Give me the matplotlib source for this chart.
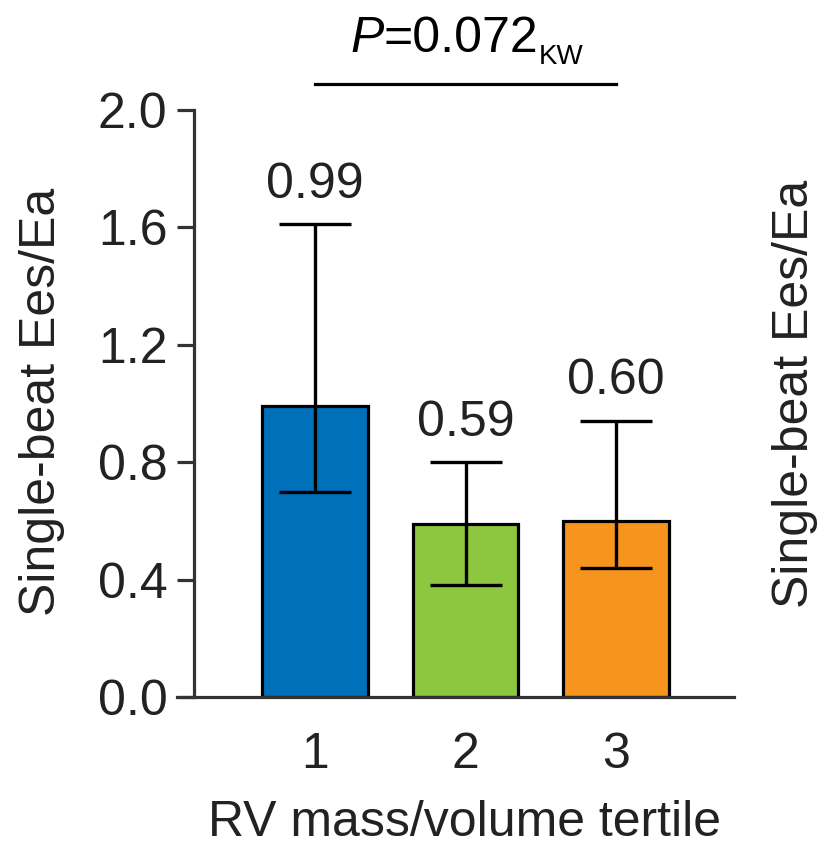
import numpy as np
import matplotlib
matplotlib.use('Agg')
import matplotlib.pyplot as plt
from matplotlib.transforms import offset_copy

plt.rcParams['font.family'] = ['Liberation Sans', 'DejaVu Sans']

# tertile means with lower / upper bounds
tertiles = [1, 2, 3]
means = [0.99, 0.59, 0.60]
lower = [0.70, 0.38, 0.44]
upper = [1.61, 0.80, 0.94]
colors = ['#0070BB', '#8DC63F', '#F7941D']
yticks = [0.0, 0.4, 0.8, 1.2, 1.6, 2.0]
p_value = '0.072'
p_test = 'KW'
ylab = 'Single-beat Ees/Ea'
xlab = 'RV mass/volume tertile'

txtc = '#222222'
fs = 36

fig = plt.figure(figsize=(8.19, 8.51), dpi=100)
ax = fig.add_axes([177/819, 1-697/851, (734-177)/819, (697-110)/851])

x = np.array(tertiles, dtype=float)
m = np.array(means)
yerr = np.vstack([m - np.array(lower), np.array(upper) - m])

ax.bar(x, m, width=0.70, color=colors, edgecolor='black', linewidth=2.3, zorder=2)
ax.errorbar(x, m, yerr=yerr, fmt='none', ecolor='black', elinewidth=2.4,
            capsize=26, capthick=2.4, zorder=3)

for xi, mi, hi in zip(x, means, upper):
    ax.annotate(f'{mi:.2f}', xy=(xi, hi), xytext=(0, 12), textcoords='offset points',
                ha='center', va='bottom', fontsize=fs, color=txtc)

ax.set_xlim(0.083, 3.784)
ax.set_ylim(0, 2.0)
ax.set_yticks(yticks)
ax.set_yticklabels([f'{t:.1f}' for t in yticks])
ax.set_xticks(tertiles)
ax.set_xticklabels([str(t) for t in tertiles])

for s in ['top', 'right']:
    ax.spines[s].set_visible(False)
ax.spines['left'].set_position(('data', 0.196))
for s in ['left', 'bottom']:
    ax.spines[s].set_linewidth(2.3)
    ax.spines[s].set_color('#333333')

ax.tick_params(axis='y', direction='out', length=12, width=2.3, pad=7,
               labelsize=fs, colors='#333333', labelcolor=txtc)
ax.tick_params(axis='x', length=0, pad=25, labelsize=fs, labelcolor=txtc)

ax.set_xlabel(xlab, fontsize=fs, color=txtc, labelpad=16)
ax.xaxis.label.set_x(0.517)

fig.text(42/819, 1-402/851, ylab, rotation=90, ha='center', va='center',
         fontsize=fs, color=txtc)
fig.text(795/819, 1-394/851, ylab, rotation=90, ha='center', va='center',
         fontsize=fs, color=txtc)

# Kruskal-Wallis bracket across the three tertiles
ax.plot([1, 3], [2.088, 2.088], color='black', linewidth=2.3, clip_on=False)
px, py = 1.455, 2.197
ax.text(px, py, 'P', style='italic', ha='right', va='baseline',
        fontsize=fs, color='black', clip_on=False)
t_rest = ax.text(px, py, '=' + p_value, ha='left', va='baseline',
                 fontsize=fs, color='black', clip_on=False)
fig.canvas.draw()
bb = t_rest.get_window_extent()
xr, _ = ax.transData.inverted().transform((bb.x1, bb.y0))
ax.text(xr, py, p_test, ha='left', va='baseline', fontsize=20, color='black',
        clip_on=False,
        transform=offset_copy(ax.transData, fig=fig, x=1, y=-12, units='dots'))

fig.savefig('out.png', dpi=100)
